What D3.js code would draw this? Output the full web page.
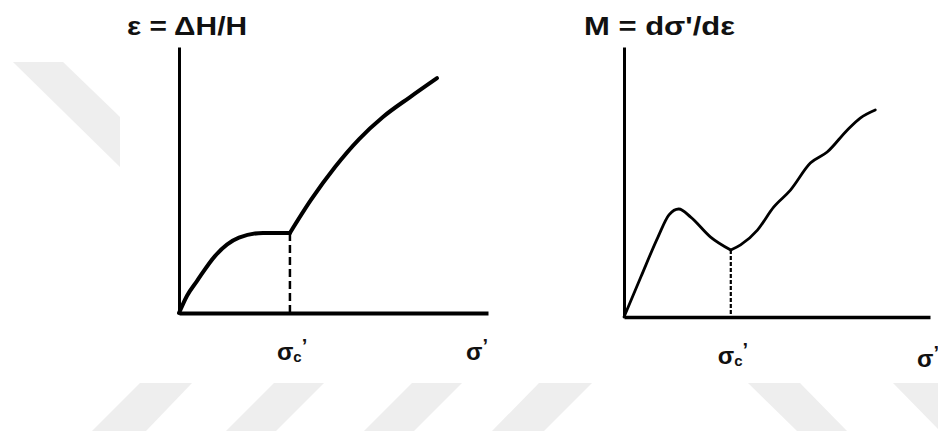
<!DOCTYPE html>
<html>
<head>
<meta charset="utf-8">
<script src="https://cdn.jsdelivr.net/npm/d3@7"></script>
<style>
  html, body { margin: 0; padding: 0; background: #fff; }
  text { font-family: "Liberation Sans", Arial, sans-serif; font-weight: bold; fill: #111; }
</style>
</head>
<body>
<div id="chart"></div>
<script>
// curve values, axes go 0..100 in both directions
// left panel: strain vs effective stress, kink at the preconsolidation stress
const strainBefore = [[0, 0], [2.6, 6.5], [5.8, 12.0], [11.7, 21.5], [19.4, 28.3], [27.2, 30.1], [35.9, 30.1]];
const strainAfter = [[35.9, 30.1], [42.7, 42.5], [50.5, 54.9], [58.3, 65.4], [66.0, 73.7], [74.8, 81.2], [83.5, 88.3]];
const sigmaCLeft = 35.9;

// right panel: constrained modulus vs effective stress
const modulusBefore = [[0, 0], [5.5, 14.8], [11.1, 29.6], [14.7, 37.8], [17.9, 40.0], [21.8, 37.0], [28.3, 29.6], [34.9, 24.8]];
const modulusAfter = [[34.9, 24.8], [38.1, 26.7], [43.6, 32.2], [48.9, 40.7], [54.4, 47.0], [60.9, 57.0], [66.4, 61.1], [73.0, 69.3], [77.2, 73.7], [82.1, 76.7]];
const sigmaCRight = 34.9;

const yTitles = ["ε = ΔH/H", "M = dσ'/dε"];

const W = 938, H = 431;

const svg = d3.select("#chart")
  .append("svg")
    .attr("width", W)
    .attr("height", H);

// faint watermark stripes in the background
const watermark = [
  [[13, 62], [63, 62], [120, 117], [120, 167]],
  [[140, 383], [192, 383], [146, 431], [92, 431]],
  [[274, 383], [324, 383], [276, 431], [226, 431]],
  [[412, 383], [462, 383], [414, 431], [364, 431]],
  [[539, 383], [592, 383], [544, 431], [492, 431]],
  [[748, 383], [800, 383], [847, 431], [797, 431]],
  [[893, 383], [945, 383], [992, 431], [940, 431]]
];
svg.selectAll(".wm")
  .data(watermark)
  .enter()
  .append("polygon")
  .attr("class", "wm")
  .attr("points", d => d.map(p => p.join(",")).join(" "))
  .attr("fill", "#eeeeee");

function drawPanel(cfg) {
  const x = d3.scaleLinear().domain([0, 100]).range([cfg.left, cfg.right]);
  const y = d3.scaleLinear().domain([0, 100]).range([cfg.bottom, cfg.top]);
  const g = svg.append("g");

  // axes: just the domain lines, no ticks
  g.append("g")
    .attr("transform", `translate(0,${cfg.bottom})`)
    .call(d3.axisBottom(x).tickValues([]).tickSizeOuter(0))
    .select(".domain")
      .attr("stroke", "#000")
      .attr("stroke-width", cfg.xAxisWidth);

  g.append("g")
    .attr("transform", `translate(${cfg.left},0)`)
    .call(d3.axisLeft(y).tickValues([]).tickSizeOuter(0))
    .select(".domain")
      .attr("stroke", "#000")
      .attr("stroke-width", cfg.yAxisWidth);

  // dashed drop line at sigma_c
  const yc = cfg.before[cfg.before.length - 1][1];
  g.append("line")
    .attr("x1", x(cfg.sigmaC)).attr("x2", x(cfg.sigmaC))
    .attr("y1", y(yc)).attr("y2", y(0))
    .attr("stroke", "#000")
    .attr("stroke-width", cfg.dashWidth)
    .attr("stroke-dasharray", cfg.dash);

  const line = d3.line()
    .x(d => x(d[0]))
    .y(d => y(d[1]))
    .curve(d3.curveMonotoneX);

  g.selectAll(".curve")
    .data([cfg.before, cfg.after])
    .enter()
    .append("path")
    .attr("class", "curve")
    .attr("d", line)
    .attr("fill", "none")
    .attr("stroke", "#000")
    .attr("stroke-width", cfg.curveWidth)
    .attr("stroke-linecap", "round")
    .attr("stroke-linejoin", "round");

  // y title
  g.append("text")
    .attr("x", cfg.titleX)
    .attr("y", 35)
    .attr("font-size", 25)
    .attr("textLength", cfg.titleLen)
    .attr("lengthAdjust", "spacingAndGlyphs")
    .text(cfg.title);

  // sigma_c' label
  const lc = g.append("text")
    .attr("x", x(cfg.sigmaC) - 13)
    .attr("y", cfg.bottom + 47)
    .attr("font-size", 24);
  lc.append("tspan").text("σ");
  lc.append("tspan").attr("font-size", 15).attr("dy", 2).text("c");
  lc.append("tspan").attr("font-size", 20).attr("dy", -9).text("’");

  // sigma' label at the axis end
  const ls = g.append("text")
    .attr("x", cfg.sigmaX)
    .attr("y", cfg.bottom + cfg.sigmaDy)
    .attr("font-size", 24);
  ls.append("tspan").text("σ");
  ls.append("tspan").attr("font-size", 20).attr("dy", -7).text("’");
}

drawPanel({
  left: 179, right: 488, top: 47, bottom: 313,
  before: strainBefore, after: strainAfter, sigmaC: sigmaCLeft,
  title: yTitles[0], titleX: 127, titleLen: 120,
  curveWidth: 4, xAxisWidth: 4, yAxisWidth: 3,
  dash: "8,4", dashWidth: 2.5,
  sigmaX: 466, sigmaDy: 47
});

drawPanel({
  left: 624, right: 930, top: 47, bottom: 317,
  before: modulusBefore, after: modulusAfter, sigmaC: sigmaCRight,
  title: yTitles[1], titleX: 584, titleLen: 151,
  curveWidth: 2.8, xAxisWidth: 3.5, yAxisWidth: 3,
  dash: "4,2", dashWidth: 2.2,
  sigmaX: 917, sigmaDy: 50
});
</script>
</body>
</html>
